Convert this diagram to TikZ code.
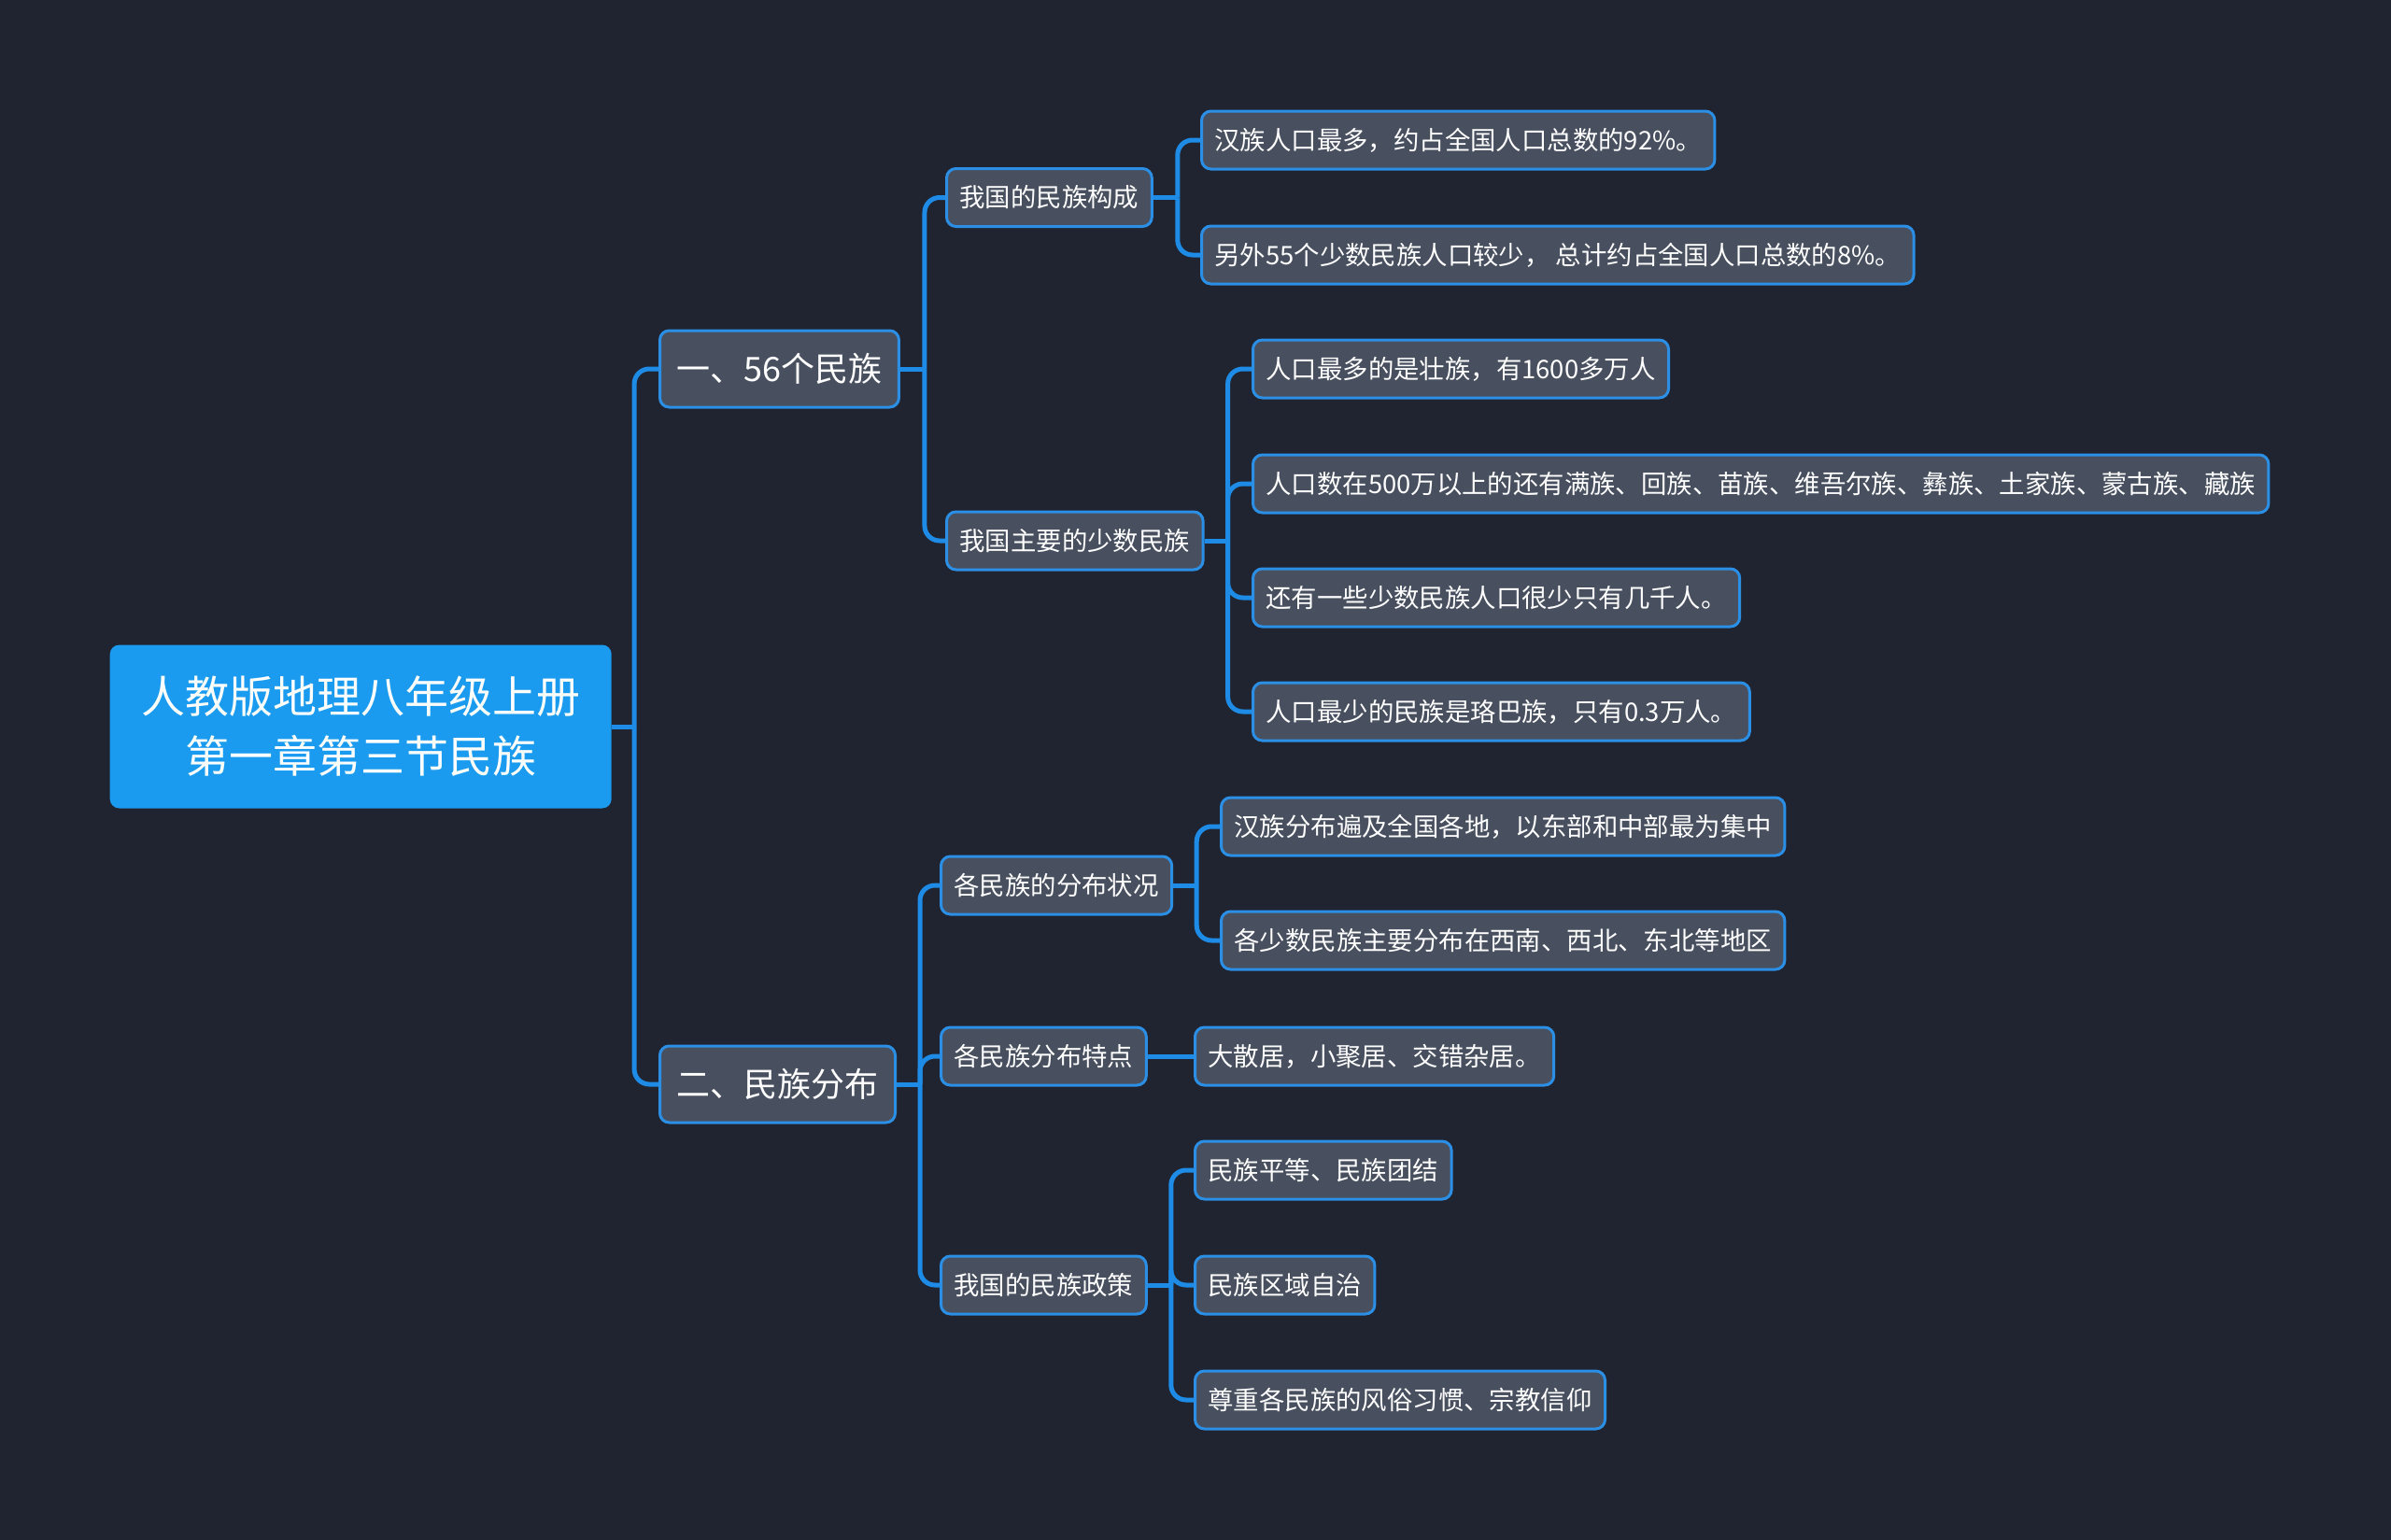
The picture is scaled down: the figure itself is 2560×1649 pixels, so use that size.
\documentclass[tikz,border=0pt]{standalone}
\usepackage{fontspec}
\newfontfamily\cjk{Noto Sans CJK SC}
\definecolor{bgc}{HTML}{202430}
\definecolor{nodec}{HTML}{485060}
\definecolor{bordc}{HTML}{2C8FE6}
\definecolor{linec}{HTML}{1E8CE6}
\definecolor{rootc}{HTML}{1A9BF0}
\begin{document}
\begin{tikzpicture}[x=0.5pt,y=-0.5pt,
  base/.style={draw=bordc, line width=1.5pt, fill=nodec, rounded corners=5pt, text=white, anchor=west},
  rootbox/.style={fill=rootc, draw=none, rounded corners=5pt, text=white, minimum width=268.5pt, minimum height=87.5pt, align=center, font=\cjk\fontsize{23.5pt}{32pt}\selectfont},
  lone/.style={base, minimum height=41pt, inner xsep=9pt, font=\cjk\fontsize{18pt}{20pt}\selectfont},
  ltwo/.style={base, minimum height=31pt, inner xsep=7pt, font=\cjk\fontsize{13.7pt}{16pt}\selectfont},
  conn/.style={draw=linec, line width=2.5pt, rounded corners=8pt}]
\fill[bgc] (0,0) rectangle (2560,1649);
\useasboundingbox (0,0) rectangle (2560,1649);

% root
\node[rootbox] (root) at (386.2,778) {人教版地理八年级上册\\第一章第三节民族};

% level 1
\node[lone] (a) at (705,395) {一、56个民族};
\node[lone] (b) at (705,1161) {二、民族分布};

% level 2
\node[ltwo] (a1) at (1012,211.5) {我国的民族构成};
\node[ltwo] (a2) at (1012,579) {我国主要的少数民族};
\node[ltwo] (b1) at (1006,948) {各民族的分布状况};
\node[ltwo] (b2) at (1006,1131) {各民族分布特点};
\node[ltwo] (b3) at (1006,1376) {我国的民族政策};

% level 3
\node[ltwo] (a11) at (1285,150) {汉族人口最多，约占全国人口总数的92\%。};
\node[ltwo] (a12) at (1285,273) {另外55个少数民族人口较少，\ 总计约占全国人口总数的8\%。};
\node[ltwo] (a21) at (1340,395) {人口最多的是壮族，有1600多万人};
\node[ltwo] (a22) at (1340,518) {人口数在500万以上的还有满族、回族、苗族、维吾尔族、彝族、土家族、蒙古族、藏族};
\node[ltwo] (a23) at (1340,640) {还有一些少数民族人口很少只有几千人。};
\node[ltwo] (a24) at (1340,762) {人口最少的民族是珞巴族，只有0.3万人。};
\node[ltwo] (b11) at (1306,885) {汉族分布遍及全国各地，以东部和中部最为集中};
\node[ltwo] (b12) at (1306,1007) {各少数民族主要分布在西南、西北、东北等地区};
\node[ltwo] (b21) at (1278,1131) {大散居，小聚居、交错杂居。};
\node[ltwo] (b31) at (1278,1253) {民族平等、民族团结};
\node[ltwo] (b32) at (1278,1376) {民族区域自治};
\node[ltwo] (b33) at (1278,1499) {尊重各民族的风俗习惯、宗教信仰};

% bus coordinates
\path (root.east) ++(24,0) coordinate (r0);
\path (a.east) ++(26,0) coordinate (ra);
\path (b.east) ++(25,0) coordinate (rb);
\path (a1.east) ++(26,0) coordinate (ra1);
\path (a2.east) ++(25,0) coordinate (ra2);
\path (b1.east) ++(25,0) coordinate (rb1);
\path (b3.east) ++(25,0) coordinate (rb3);

% connectors
\draw[conn] (root.east) -- (r0);
\draw[conn] (r0) |- (a.west);
\draw[conn] (r0) |- (b.west);

\draw[conn] (a.east) -- (ra);
\draw[conn] (ra) |- (a1.west);
\draw[conn] (ra) |- (a2.west);
\draw[conn] (b.east) -- (rb);
\draw[conn] (rb) |- (b1.west);
\draw[conn] (rb) |- (b2.west);
\draw[conn] (rb) |- (b3.west);

\draw[conn] (a1.east) -- (ra1);
\draw[conn] (ra1) |- (a11.west);
\draw[conn] (ra1) |- (a12.west);
\draw[conn] (a2.east) -- (ra2);
\draw[conn] (ra2) |- (a21.west);
\draw[conn] (ra2) |- (a22.west);
\draw[conn] (ra2) |- (a23.west);
\draw[conn] (ra2) |- (a24.west);
\draw[conn] (b1.east) -- (rb1);
\draw[conn] (rb1) |- (b11.west);
\draw[conn] (rb1) |- (b12.west);
\draw[conn] (b2.east) -- (b21.west);
\draw[conn] (b3.east) -- (rb3);
\draw[conn] (rb3) |- (b31.west);
\draw[conn] (rb3) |- (b32.west);
\draw[conn] (rb3) |- (b33.west);
\end{tikzpicture}
\end{document}
